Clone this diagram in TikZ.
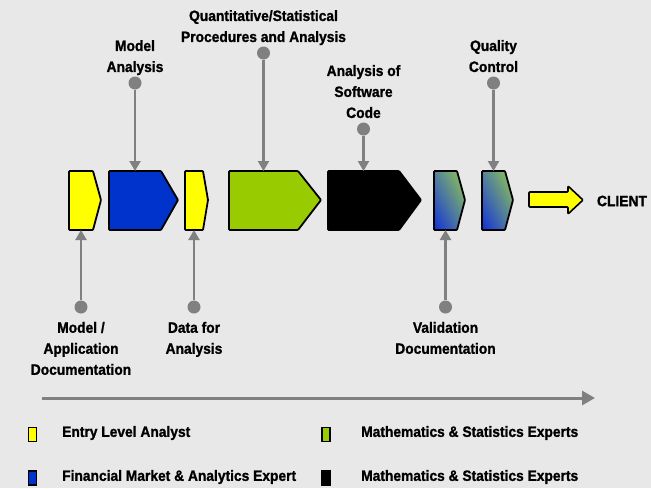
\documentclass[tikz,border=0pt]{standalone}
\usepackage{fontspec}
\setmainfont{Liberation Sans}[FakeStretch=0.92, BoldFeatures={FakeBold=1.2}]
\usepackage{tikz}
\usetikzlibrary{arrows.meta, positioning, calc, shadings}

\definecolor{canvas}{RGB}{232,232,232}
\definecolor{stepyellow}{RGB}{255,255,0}
\definecolor{stepblue}{RGB}{0,51,204}
\definecolor{stepgreen}{RGB}{153,204,0}
\definecolor{pingray}{RGB}{128,128,128}
\definecolor{mixblue}{RGB}{16,48,214}
\definecolor{mixmid}{RGB}{84,130,160}
\definecolor{mixgreen}{RGB}{150,204,70}

% one stage of the chain: name, fill, left edge, right edge, tip
\newcommand{\stage}[5]{%
  \draw[stagebox, #2] (#3,171) -- (#4,171) -- (#5,200) -- (#4,230) -- (#3,230) -- cycle;
  \coordinate (#1-n) at ({(#3+#4)/2},171);
  \coordinate (#1-s) at ({(#3+#4)/2},230);
}

\begin{document}
\begin{tikzpicture}[x=1pt, y=-1pt,
    stagebox/.style={draw=black, line width=1.8pt, line join=round, rounded corners=0.8pt},
    blend/.style={shade, lower left=mixblue, upper right=mixgreen, upper left=mixmid, lower right=mixmid},
    pin/.style={circle, fill=pingray, inner sep=0pt, minimum size=13pt},
    pinarrow/.style={draw=pingray, line width=2.2pt, -{Triangle[length=10pt, width=11pt]}},
    callout/.style={font=\fontsize{15}{21}\selectfont\bfseries, align=center, inner sep=1pt},
    swatch/.style={draw=black, line width=1.5pt, minimum width=8pt, minimum height=14pt, inner sep=0pt},
    legtext/.style={font=\fontsize{15}{21}\selectfont\bfseries, anchor=west, inner sep=0pt},
]
    \fill[canvas] (0,0) rectangle (651,488);
    \useasboundingbox (0,0) rectangle (651,488);

    % Stages
    \stage{yel1}{fill=stepyellow}{69}{93}{101}
    \stage{blu}{fill=stepblue}{109}{161}{178}
    \stage{yel2}{fill=stepyellow}{185}{203}{208}
    \stage{grn}{fill=stepgreen}{229}{298}{321}
    \stage{blk}{fill=black}{328}{399}{421}
    \stage{val}{blend}{434}{457}{465}
    \stage{qc}{blend}{482}{505}{513}

    % Hand-over to the client
    \draw[stagebox, line width=1.6pt, fill=stepyellow] (529,192) -- (568,192) -- (568,186) -- (583,200)
        -- (568,214) -- (568,207) -- (529,207) -- cycle;
    \node[callout] (client) at (622,201) {CLIENT};

    % Callouts above
    \path (blu-n) ++(0,-88) node[pin] (mapin) {};
    \node[callout, above=0pt of mapin] {Model\\Analysis};
    \draw[pinarrow] (mapin) -- (blu-n);

    \path (grn-n) ++(0,-118) node[pin] (qspin) {};
    \node[callout, above=0pt of qspin] {Quantitative/Statistical\\Procedures and Analysis};
    \draw[pinarrow] (qspin) -- (grn-n);

    \path (blk-n) ++(0,-42) node[pin] (swpin) {};
    \node[callout, above=3pt of swpin] {Analysis of\\Software\\Code};
    \draw[pinarrow] (swpin) -- (blk-n);

    \path (qc-n) ++(0,-88) node[pin] (qcpin) {};
    \node[callout, above=3pt of qcpin] {Quality\\Control};
    \draw[pinarrow] (qcpin) -- (qc-n);

    % Callouts below
    \path (yel1-s) ++(0,77) node[pin] (docpin) {};
    \node[callout, below=7pt of docpin] {Model /\\Application\\Documentation};
    \draw[pinarrow] (docpin) -- (yel1-s);

    \path (yel2-s) ++(0,77) node[pin] (datapin) {};
    \node[callout, below=7pt of datapin] {Data for\\Analysis};
    \draw[pinarrow] (datapin) -- (yel2-s);

    \path (val-s) ++(0,77) node[pin] (valpin) {};
    \node[callout, below=7pt of valpin] {Validation\\Documentation};
    \draw[pinarrow] (valpin) -- (val-s);

    % Time line
    \coordinate (tstart) at (42,398);
    \coordinate (tend) at (595,398);
    \draw[pingray, line width=3pt, -{Triangle[length=13pt, width=14pt]}] (tstart) -- (tend);

    % Legend
    \node[swatch, fill=stepyellow] (k1) at (32.5,434.5) {};
    \node[legtext] at (62,433) {Entry Level Analyst};
    \node[swatch, fill=stepblue] (k2) at (32.5,478) {};
    \node[legtext] at (62,477) {Financial Market \& Analytics Expert};
    \node[swatch, fill=stepgreen] (k3) at (326,434.5) {};
    \node[legtext] at (361,433) {Mathematics \& Statistics Experts};
    \node[swatch, fill=black] (k4) at (326,478) {};
    \node[legtext] at (361,477) {Mathematics \& Statistics Experts};
\end{tikzpicture}
\end{document}
